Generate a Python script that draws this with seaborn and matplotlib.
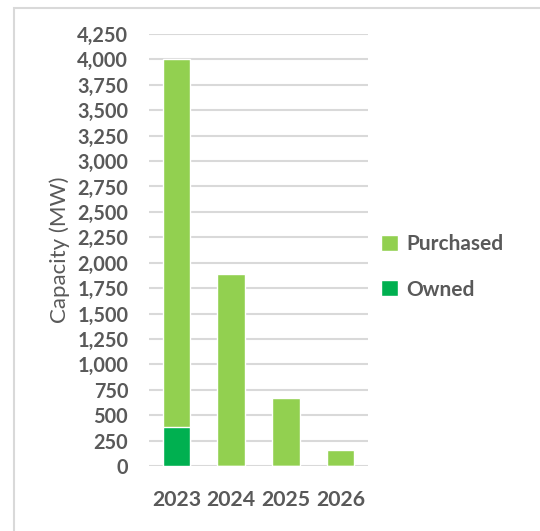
import matplotlib
matplotlib.use("Agg")
import matplotlib.pyplot as plt
from matplotlib.patches import Rectangle
from matplotlib.ticker import FuncFormatter, MultipleLocator
import seaborn as sns
import pandas as pd

years = ["2023", "2024", "2025", "2026"]
owned = [385, 0, 0, 0]
purchased = [3615, 1890, 670, 160]

sns.set_style("white")
plt.rcParams['font.family'] = ['Lato', 'DejaVu Sans']

W, H = 540, 531
fig = plt.figure(figsize=(W / 100, H / 100), dpi=100)
ax = fig.add_axes([149 / W, 1 - 466 / H, (368 - 149) / W, (466 - 34) / H])

df = pd.DataFrame({"year": years, "owned": owned, "purchased": purchased})
df["total"] = df["owned"] + df["purchased"]

light = "#92D050"
dark = "#00B050"
sns.barplot(data=df, x="year", y="total", color=light, width=0.5, ax=ax,
            saturation=1, label="Purchased", zorder=3)
sns.barplot(data=df, x="year", y="owned", color=dark, width=0.5, ax=ax,
            saturation=1, label="Owned", zorder=3)

ax.set_ylim(0, 4250)
ax.yaxis.set_major_locator(MultipleLocator(250))
ax.yaxis.set_major_formatter(FuncFormatter(lambda v, p: f"{int(v):,}"))
ax.grid(axis="y", color="#D9D9D9", linewidth=1.5, zorder=0)
ax.set_axisbelow(True)
for s in ax.spines.values():
    s.set_visible(False)
ax.tick_params(axis="y", length=0, pad=15, labelsize=14.3, labelcolor="#595959")
ax.tick_params(axis="x", length=0, pad=17, labelsize=15.3, labelcolor="#595959")
for lab in ax.get_yticklabels() + ax.get_xticklabels():
    lab.set_fontweight("bold")
ax.set_xlabel("")
ax.set_ylabel("Capacity (MW)", fontsize=16, color="#595959")
ax.yaxis.set_label_coords(-0.36, 0.5)

handles, labels = ax.get_legend_handles_labels()
leg = fig.legend(handles, labels, loc="center left",
                 bbox_to_anchor=(381 / W, 1 - 267 / H), frameon=False,
                 borderaxespad=0, borderpad=0,
                 handlelength=0.8, handleheight=0.8, handletextpad=0.4,
                 labelspacing=1.2,
                 prop={"size": 15, "weight": "bold"})
for t in leg.get_texts():
    t.set_color("#595959")
if ax.get_legend() is not None:
    ax.get_legend().remove()

fig.add_artist(Rectangle((14 / W, -0.1), 1.2, 1.1 - 8 / H, transform=fig.transFigure,
                         fill=False, edgecolor="#D9D9D9", linewidth=1.5))

fig.savefig("out.png", dpi=100)
